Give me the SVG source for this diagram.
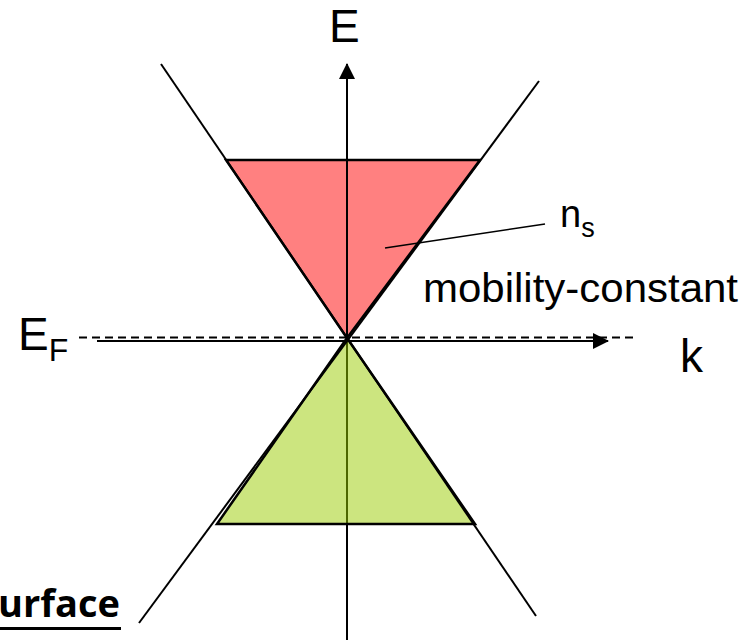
<svg xmlns="http://www.w3.org/2000/svg" width="746" height="640" viewBox="0 0 746 640">
<style>
.lbl{font-family:"Liberation Sans",Arial,sans-serif;fill:#000}
.ln{stroke:#000;stroke-width:2;fill:none}
.tri{stroke:#000;stroke-width:2.5;stroke-linejoin:miter}
</style>
<defs>
<marker id="ah" viewBox="0 0 16 16" refX="15" refY="8" markerWidth="16" markerHeight="16" markerUnits="userSpaceOnUse" orient="auto">
<path d="M0,0 L16,8 L0,16 Z" fill="#000"/>
</marker>
</defs>
<rect width="746" height="640" fill="#fff"/>
<g id="connectors">
<line id="k-axis-dashed" x1="79" y1="337.5" x2="637" y2="337.5" stroke="#000" stroke-width="2" stroke-dasharray="8,5"/>
<line id="E-axis" class="ln" x1="347" y1="640" x2="347" y2="64" marker-end="url(#ah)"/>
<line id="k-axis" class="ln" x1="97" y1="341" x2="608" y2="341" marker-end="url(#ah)"/>
</g>
<g id="upper-cone">
<polygon class="tri" points="226,160 480,160 347,338" fill="#FF8080"/>
<line class="ln" x1="347" y1="160" x2="347" y2="338"/>
</g>
<g id="lower-cone">
<polygon class="tri" points="347,338 475,524 217,524" fill="#99CC00" fill-opacity="0.5"/>
</g>
<g id="dispersion-lines">
<line class="ln" x1="161" y1="64" x2="536" y2="616"/>
<line class="ln" x1="539" y1="81" x2="139" y2="623"/>
</g>
<g id="label-E"><text class="lbl" x="329" y="42" font-size="46">E</text></g>
<g id="label-EF"><text class="lbl" x="18" y="350" font-size="46">E<tspan font-size="32" dy="11">F</tspan></text></g>
<g id="label-k"><text class="lbl" x="680" y="372" font-size="46">k</text></g>
<g id="label-ns">
<line stroke="#000" stroke-width="1.5" x1="545" y1="224" x2="385" y2="248"/>
<text class="lbl" x="560" y="227" font-size="38">n<tspan font-size="27" dy="10">s</tspan></text>
</g>
<g id="label-mobility"><text class="lbl" x="423" y="302" font-size="40" textLength="315" lengthAdjust="spacingAndGlyphs">mobility-constant</text></g>
<g id="label-surface">
<text x="120" y="617" font-family="'Open Sans',sans-serif" font-weight="bold" font-size="38" text-anchor="end" fill="#000">urface</text>
<rect x="0" y="627" width="121" height="3" fill="#000"/>
</g>
</svg>
